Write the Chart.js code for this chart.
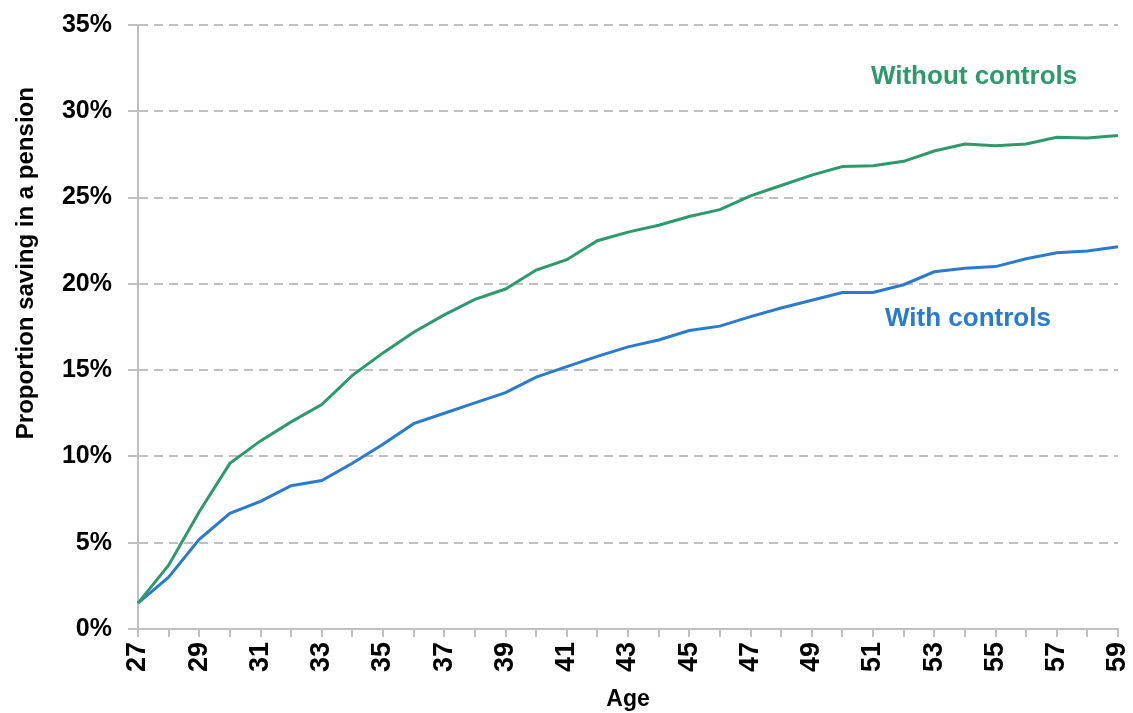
<!DOCTYPE html>
<html>
<head>
<meta charset="utf-8">
<script src="https://cdn.jsdelivr.net/npm/chart.js@4/dist/chart.umd.min.js"></script>
<style>
  html, body { margin: 0; padding: 0; background: #fff; }
  #wrap { width: 1133px; height: 713px; position: relative; }
</style>
</head>
<body>
<div id="wrap"><canvas id="pensionChart"></canvas></div>
<script>
const ages = [27, 28, 29, 30, 31, 32, 33, 34, 35, 36, 37, 38, 39, 40, 41, 42, 43,
    44, 45, 46, 47, 48, 49, 50, 51, 52, 53, 54, 55, 56, 57, 58, 59];
const withoutControls = [1.5, 3.7, 6.8, 9.6, 10.9, 12.0, 13.0, 14.7, 16.0, 17.2, 18.2,
    19.1, 19.7, 20.8, 21.4, 22.5, 23.0, 23.4, 23.9, 24.3, 25.1, 25.7, 26.3, 26.8,
    26.85, 27.1, 27.7, 28.1, 28.0, 28.1, 28.5, 28.45, 28.6];
const withControls = [1.5, 3.0, 5.2, 6.7, 7.4, 8.3, 8.6, 9.6, 10.7, 11.9, 12.5, 13.1,
    13.7, 14.6, 15.2, 15.8, 16.35, 16.75, 17.3, 17.55, 18.1, 18.6, 19.05, 19.5, 19.5,
    19.95, 20.7, 20.9, 21.0, 21.45, 21.8, 21.9, 22.15];
const seriesNames = ['Without controls', 'With controls'];
const yTicks = [0, 5, 10, 15, 20, 25, 30, 35];
const yTitle = 'Proportion saving in a pension';

const green = '#2e9a6c';
const blue = '#2a7bd0';
const grey = '#c0c0c0';
const fontFamily = '"Liberation Sans", Arial, sans-serif';

// line labels next to the curves, plus the y title (which sits above the centre in the original)
const chartText = {
    id: 'chartText',
    afterDatasetsDraw(chart) {
        const { ctx, scales } = chart;
        const items = [
            { text: seriesNames[0], age: 54.3, value: 32.0, color: green },
            { text: seriesNames[1], age: 54.1, value: 17.95, color: blue }
        ];
        ctx.save();
        ctx.font = 'bold 26px ' + fontFamily;
        ctx.textAlign = 'center';
        ctx.textBaseline = 'middle';
        items.forEach(item => {
            const x = scales.x.getPixelForValue(item.age - ages[0]);
            const y = scales.y.getPixelForValue(item.value);
            ctx.fillStyle = item.color;
            ctx.fillText(item.text, x, y);
        });

        ctx.translate(26, scales.y.getPixelForValue(21.2));
        ctx.rotate(-Math.PI / 2);
        ctx.font = 'bold 24px ' + fontFamily;
        ctx.fillStyle = '#000';
        ctx.fillText(yTitle, 0, 0);
        ctx.restore();
    }
};

const ctx = document.getElementById('pensionChart').getContext('2d');
new Chart(ctx, {
    type: 'line',
    data: {
        labels: ages,
        datasets: [
            {
                label: seriesNames[0],
                data: withoutControls,
                borderColor: green,
                borderWidth: 3,
                pointRadius: 0,
                tension: 0
            },
            {
                label: seriesNames[1],
                data: withControls,
                borderColor: blue,
                borderWidth: 3,
                pointRadius: 0,
                tension: 0
            }
        ]
    },
    options: {
        responsive: true,
        maintainAspectRatio: false,
        animation: false,
        layout: { padding: { top: 25, right: 15, left: 0, bottom: 0 } },
        scales: {
            x: {
                type: 'category',
                offset: false,
                grid: {
                    drawOnChartArea: false,
                    drawTicks: true,
                    tickLength: 8,
                    color: grey,
                    lineWidth: 2
                },
                border: { display: true, color: grey, width: 2 },
                ticks: {
                    autoSkip: false,
                    maxRotation: 90,
                    minRotation: 90,
                    color: '#000',
                    padding: 5,
                    font: { family: fontFamily, size: 27, weight: 'bold' },
                    callback: (val, i) => (i % 2 === 0 ? ages[i] : '')
                },
                title: {
                    display: true,
                    text: 'Age',
                    color: '#000',
                    padding: { top: 0, bottom: 0 },
                    font: { family: fontFamily, size: 23, weight: 'bold' }
                },
                afterFit(scale) {
                    scale.height = 84;
                    scale.paddingRight = 0;
                }
            },
            y: {
                min: 0,
                max: 35,
                afterBuildTicks(scale) {
                    scale.ticks = yTicks.map(v => ({ value: v }));
                },
                grid: {
                    color: grey,
                    lineWidth: 2,
                    tickLength: 10,
                    drawTicks: true
                },
                border: { display: true, color: grey, width: 2, dash: [9, 6] },
                ticks: {
                    color: '#000',
                    padding: 16,
                    font: { family: fontFamily, size: 25, weight: 'bold' },
                    callback: v => v + '%'
                },
                afterFit(scale) {
                    scale.width = 138;
                    scale.paddingTop = 0;
                    scale.paddingBottom = 0;
                }
            }
        },
        plugins: {
            legend: { display: false },
            tooltip: { enabled: false }
        }
    },
    plugins: [chartText]
});
</script>
</body>
</html>
